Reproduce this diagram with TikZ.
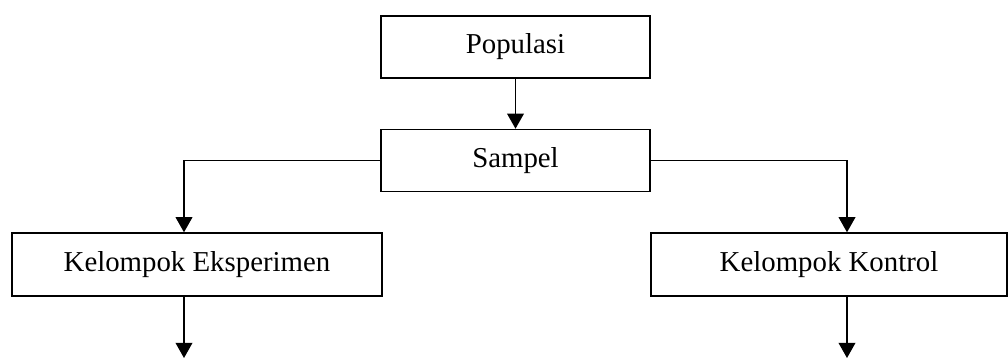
\documentclass[tikz,border=0pt]{standalone}
\usepackage{fontspec}
\setmainfont{Liberation Serif}
\usetikzlibrary{positioning,arrows.meta}

\begin{document}
\begin{tikzpicture}[
	x=0.025cm, y=-0.025cm,
	node distance=1.25cm,
	font=\fontsize{20.5}{24}\selectfont,
	block/.style={draw, line width=1pt, minimum height=1.55cm, text centered
	},
	link/.style={-{Triangle[width=0.42cm,length=0.38cm]}, line width=1pt}]
\useasboundingbox (0,0) rectangle (1008,358);
\node[block, minimum width=6.725cm] at (515.5,47) (pop) {Populasi};
\node[block, minimum width=6.725cm, below=of pop] (smp) {Sampel};
\node[block, minimum width=9.25cm, minimum height=1.575cm] at (197,264.5) (eks) {Kelompok Eksperimen};
\node[block, minimum width=8.9cm, minimum height=1.575cm] at (829,264.5) (kon) {Kelompok Kontrol};
\coordinate (eksout) at (184,358);
\coordinate (konout) at (847,358);

\draw[link] (pop) -- (smp);
\draw[link] (smp.west) -| ([xshift=-0.325cm]eks.north);
\draw[link] (smp.east) -| ([xshift=0.45cm]kon.north);

\draw[link] (eks.south -| eksout) -- (eksout);
\draw[link] (kon.south -| konout) -- (konout);
\end{tikzpicture}
\end{document}
